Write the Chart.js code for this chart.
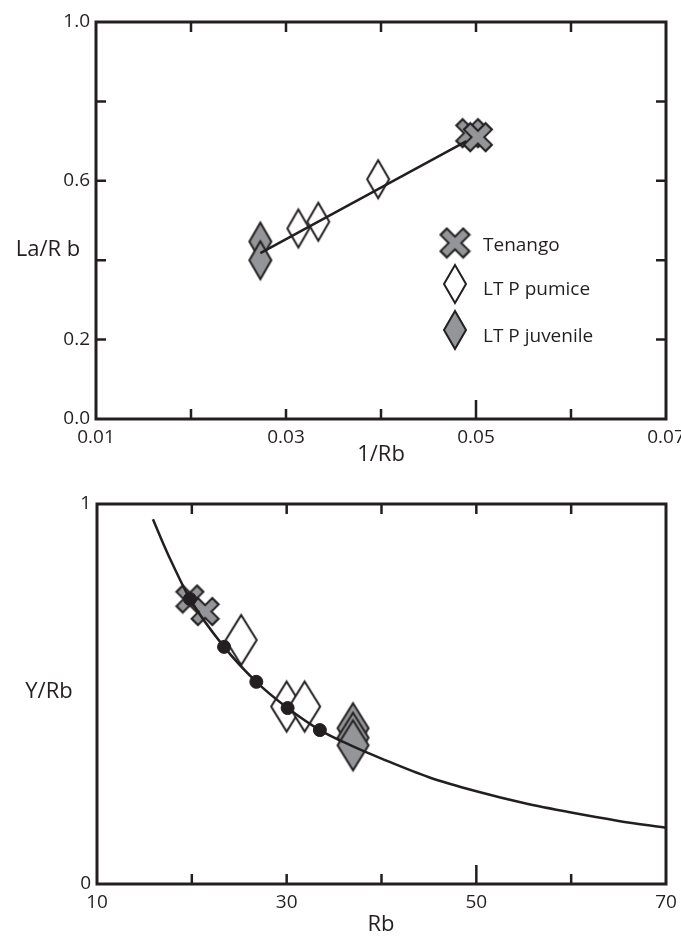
<!DOCTYPE html>
<html><head><meta charset="utf-8">
<script src="https://cdn.jsdelivr.net/npm/chart.js@4.4.0/dist/chart.umd.min.js"></script>
<style>
html,body{margin:0;padding:0;background:#fff;}
#w1{position:absolute;left:0;top:0;width:681px;height:470px;}
#w2{position:absolute;left:0;top:470px;width:681px;height:471px;}
</style></head><body>
<div id="w1"><canvas id="c1"></canvas></div>
<div id="w2"><canvas id="c2"></canvas></div>
<script>
// ---------- TOP PANEL DATA (1/Rb vs La/Rb) ----------
const tenangoInvRb  = [0.0494, 0.0502];
const tenangoLaRb   = [0.720, 0.710];
const pumiceInvRb   = [0.0313, 0.0334, 0.0397];
const pumiceLaRb    = [0.480, 0.497, 0.604];
const juvenileInvRb = [0.0273, 0.0273];
const juvenileLaRb  = [0.447, 0.400];
const fitInvRb      = [0.0273, 0.0490];
const fitLaRb       = [0.418, 0.700];
const topXLabelled  = [0.01, 0.03, 0.05, 0.07];
const topXMinor     = [0.02, 0.04, 0.06];
const topYLabelled  = [0.0, 0.2, 0.6, 1.0];
const topYMinor     = [0.4, 0.8];
const legendLabels  = ['Tenango', 'LT P pumice', 'LT P juvenile'];

// ---------- BOTTOM PANEL DATA (Rb vs Y/Rb) ----------
const tenangoRb   = [19.8, 21.4];
const tenangoYRb  = [0.750, 0.717];
const pumiceRb    = [25.2, 30.0, 31.9];
const pumiceYRb   = [0.642, 0.467, 0.467];
const juvenileRb  = [37.0, 37.0, 37.0];
const juvenileYRb = [0.41, 0.385, 0.365];
const mixRb       = [19.8, 23.4, 26.8, 30.1, 33.5];
const mixYRb      = [0.750, 0.624, 0.532, 0.463, 0.405];
const curveRb     = [15.9, 17, 18, 19.8, 23.4, 26.8, 30.1, 33.5, 37, 40, 45, 50, 55, 60, 65, 70];
const curveYRb    = [0.960, 0.895, 0.840, 0.750, 0.624, 0.532, 0.463, 0.405, 0.362, 0.330, 0.281, 0.244, 0.213, 0.188, 0.166, 0.148];
const botXLabelled = [10, 30, 50, 70];
const botXMinor    = [20, 40, 60];
const botYLabelled = [0, 1];

const INK = '#231f20';
const GRAY = '#939598';
const FONT = '"Open Sans", "DejaVu Sans", sans-serif';

function toPts(xs, ys){ return xs.map((x,i)=>({x:x, y:ys[i]})); }

function diamondImg(w, h, fill){
  const lw = 2;
  const c = document.createElement('canvas');
  c.width = Math.ceil(w + lw*2 + 2); c.height = Math.ceil(h + lw*2 + 2);
  const g = c.getContext('2d');
  const cx = c.width/2, cy = c.height/2;
  g.beginPath();
  g.moveTo(cx, cy - h/2); g.lineTo(cx + w/2, cy); g.lineTo(cx, cy + h/2); g.lineTo(cx - w/2, cy);
  g.closePath();
  g.fillStyle = fill; g.fill();
  g.lineWidth = lw; g.lineJoin = 'miter'; g.strokeStyle = INK; g.stroke();
  return c;
}
function crossImg(s, t){
  const c = document.createElement('canvas');
  c.width = s + 4; c.height = s + 4;
  const g = c.getContext('2d');
  const a = 2 + t*0.35, b = c.width - a;
  g.lineCap = 'butt';
  g.strokeStyle = INK; g.lineWidth = t + 4;
  g.beginPath(); g.moveTo(a,a); g.lineTo(b,b); g.moveTo(b,a); g.lineTo(a,b); g.stroke();
  const d = 1.5;
  g.strokeStyle = GRAY; g.lineWidth = t;
  g.beginPath(); g.moveTo(a+d,a+d); g.lineTo(b-d,b-d); g.moveTo(b-d,a+d); g.lineTo(a+d,b-d); g.stroke();
  return c;
}

// frame + inward ticks + titles + legend
const framePlugin = {
  id: 'frameTicks',
  afterDatasetsDraw(chart, args, o){
    const ctx = chart.ctx, a = chart.chartArea;
    const xs = chart.scales.x, ys = chart.scales.y;
    ctx.save();
    ctx.strokeStyle = INK; ctx.lineWidth = 2.5; ctx.lineCap = 'butt';
    ctx.beginPath();
    (o.xBottom||[]).forEach(v=>{ const p = xs.getPixelForValue(v); const L = (o.xLong||[]).includes(v) ? o.longLen : o.len; ctx.moveTo(p, a.bottom); ctx.lineTo(p, a.bottom - L); });
    (o.xTop||[]).forEach(v=>{ const p = xs.getPixelForValue(v); ctx.moveTo(p, a.top); ctx.lineTo(p, a.top + o.len); });
    (o.yLeft||[]).forEach(v=>{ const p = ys.getPixelForValue(v); ctx.moveTo(a.left, p); ctx.lineTo(a.left + o.len, p); });
    (o.yRight||[]).forEach(v=>{ const p = ys.getPixelForValue(v); ctx.moveTo(a.right, p); ctx.lineTo(a.right - o.len, p); });
    ctx.stroke();
    ctx.lineWidth = 3; ctx.lineJoin = 'miter';
    ctx.strokeRect(a.left, a.top, a.right - a.left, a.bottom - a.top);
    ctx.fillStyle = INK;
    (o.titles||[]).forEach(t=>{
      ctx.font = t.size + 'px ' + FONT; ctx.textAlign = 'center'; ctx.textBaseline = 'middle';
      ctx.fillText(t.text, t.x, t.y);
    });
    (o.legend||[]).forEach(l=>{
      ctx.drawImage(l.img, l.mx - l.img.width/2, l.my - l.img.height/2);
      ctx.font = l.size + 'px ' + FONT; ctx.textAlign = 'left'; ctx.textBaseline = 'middle';
      ctx.fillText(l.text, l.tx, l.ty);
    });
    ctx.restore();
  }
};

function baseScales(xmin, xmax, ymin, ymax, xLab, yLab, xDec, yDec, yWidth, xHeight){
  return {
    x: { type:'linear', min:xmin, max:xmax,
      afterBuildTicks: s => { s.ticks = xLab.map(v=>({value:v})); },
      afterFit: s => { s.height = xHeight; s.paddingLeft = 0; s.paddingRight = 0; },
      grid:{ display:false, drawTicks:false }, border:{ display:false },
      ticks:{ color:INK, font:{ family:FONT, size:19 }, padding:7, maxRotation:0, autoSkip:false,
        callback: v => xDec === null ? String(v) : Number(v).toFixed(xDec) } },
    y: { type:'linear', min:ymin, max:ymax,
      afterBuildTicks: s => { s.ticks = yLab.map(v=>({value:v})); },
      afterFit: s => { s.width = yWidth; s.paddingTop = 0; s.paddingBottom = 0; },
      grid:{ display:false, drawTicks:false }, border:{ display:false },
      ticks:{ color:INK, font:{ family:FONT, size:19 }, padding:6, autoSkip:false,
        callback: v => yDec === null ? String(v) : Number(v).toFixed(yDec) } }
  };
}

const common = {
  responsive:true, maintainAspectRatio:false, animation:false,
  events:[],
  plugins:{ legend:{display:false}, tooltip:{enabled:false} }
};

// ---------- TOP CHART ----------
const xTopImg = crossImg(28, 7);
const dTopW = diamondImg(22, 38, '#ffffff');
const dTopG = diamondImg(22, 38, GRAY);
new Chart(document.getElementById('c1'), {
  type:'scatter',
  data:{ datasets:[
    { label:'fit', type:'line', data:toPts(fitInvRb, fitLaRb), borderColor:INK, borderWidth:2.5, pointRadius:0, order:0 },
    { label:legendLabels[0], data:toPts(tenangoInvRb, tenangoLaRb), pointStyle:xTopImg, order:1 },
    { label:legendLabels[1], data:toPts(pumiceInvRb, pumiceLaRb), pointStyle:dTopW, order:2 },
    { label:legendLabels[2], data:toPts(juvenileInvRb, juvenileLaRb), pointStyle:dTopG, order:3 }
  ]},
  options: Object.assign({}, common, {
    layout:{ padding:{ left:0, top:22, right:15, bottom:0 } },
    scales: baseScales(0.01, 0.07, 0, 1, topXLabelled, topYLabelled, 2, 1, 96, 51),
    plugins: Object.assign({}, common.plugins, {
      frameTicks:{
        len:10, longLen:19,
        xBottom: topXMinor.concat([0.03, 0.05]), xLong:[0.05],
        xTop: topXMinor.concat([0.03, 0.05]),
        yLeft: topYMinor.concat([0.2, 0.6]),
        yRight: topYMinor.concat([0.2, 0.6]),
        titles:[ {text:'1/Rb', x:381, y:455, size:22}, {text:'La/R b', x:48, y:250, size:22} ],
        legend:[
          {img:crossImg(29,7), mx:455, my:243, text:legendLabels[0], tx:483, ty:246, size:19},
          {img:diamondImg(22,38,'#ffffff'), mx:455, my:284, text:legendLabels[1], tx:483, ty:290, size:19},
          {img:diamondImg(22,38,GRAY), mx:455, my:330, text:legendLabels[2], tx:483, ty:337, size:19}
        ]
      }
    })
  }),
  plugins:[framePlugin]
});

// ---------- BOTTOM CHART ----------
const xBotImg = crossImg(27, 7);
const dBotW = diamondImg(31, 50, '#ffffff');
const dBotG = diamondImg(31, 50, GRAY);
new Chart(document.getElementById('c2'), {
  type:'scatter',
  data:{ datasets:[
    { label:'mix dots', data:toPts(mixRb, mixYRb), pointStyle:'circle', pointRadius:6.5, backgroundColor:INK, borderColor:INK, order:0 },
    { label:'curve', type:'line', data:toPts(curveRb, curveYRb), borderColor:INK, borderWidth:2.5, pointRadius:0, cubicInterpolationMode:'monotone', order:1 },
    { label:'Tenango', data:toPts(tenangoRb, tenangoYRb), pointStyle:xBotImg, order:2 },
    { label:'LT P pumice', data:toPts(pumiceRb, pumiceYRb), pointStyle:dBotW, order:3 },
    { label:'LT P juvenile', data:toPts(juvenileRb, juvenileYRb), pointStyle:dBotG, order:4 }
  ]},
  options: Object.assign({}, common, {
    layout:{ padding:{ left:0, top:34, right:15, bottom:0 } },
    scales: baseScales(10, 70, 0, 1, botXLabelled, botYLabelled, null, null, 97, 57),
    plugins: Object.assign({}, common.plugins, {
      frameTicks:{
        len:10, longLen:19,
        xBottom: botXMinor.concat([30, 50]), xLong:[50],
        xTop: botXMinor.concat([30, 50]),
        yLeft: [], yRight: [],
        titles:[ {text:'Rb', x:381, y:455, size:22}, {text:'Y/Rb', x:49, y:222, size:22} ],
        legend:[]
      }
    })
  }),
  plugins:[framePlugin]
});
</script>
</body></html>
